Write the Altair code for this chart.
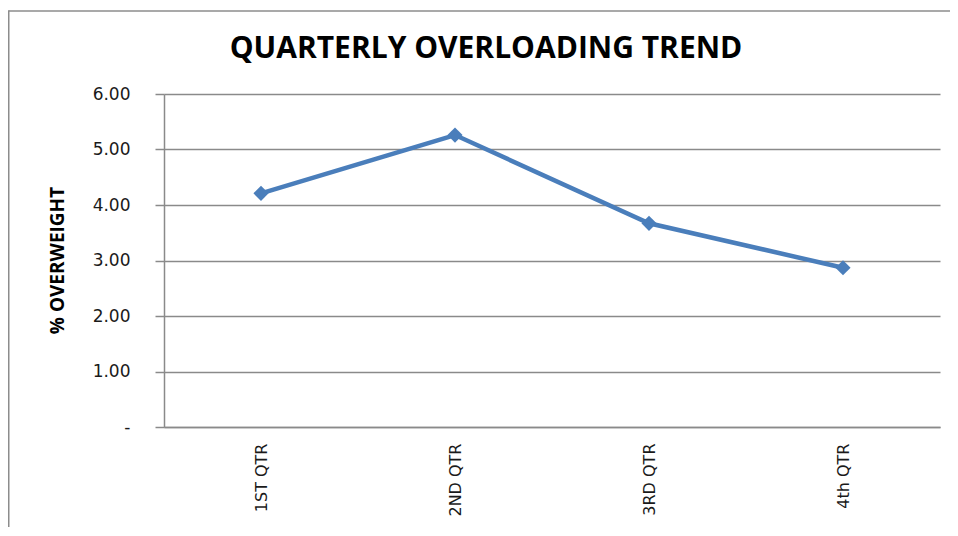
import altair as alt
import pandas as pd

quarters = ["1ST QTR", "2ND QTR", "3RD QTR", "4th QTR"]
overweight = [4.21, 5.26, 3.67, 2.87]
y_ticks = [0, 1, 2, 3, 4, 5, 6]

df = pd.DataFrame({"quarter": quarters, "pct": overweight})

blue = "#4a7ebb"
grid_gray = "#8a8a8a"

x_enc = alt.X(
    "quarter:N",
    sort=quarters,
    scale=alt.Scale(type="point", padding=0.5),
    axis=alt.Axis(
        title=None,
        labelAngle=270,
        labelAlign="right",
        labelBaseline="middle",
        labelPadding=16,
        labelFont="DejaVu Sans",
        labelFontSize=16,
        labelColor="#1a1a1a",
        ticks=False,
        grid=False,
        domainColor=grid_gray,
        domainWidth=1.5,
    ),
)
y_enc = alt.Y(
    "pct:Q",
    scale=alt.Scale(domain=[0, 6], nice=False),
    axis=alt.Axis(
        title="% OVERWEIGHT",
        values=y_ticks,
        labelExpr="datum.value == 0 ? '-\u00a0\u00a0' : format(datum.value, '.2f')",
        labelFont="DejaVu Sans",
        labelFontSize=17,
        labelColor="#1a1a1a",
        labelPadding=25,
        tickSize=9,
        tickColor=grid_gray,
        tickWidth=1.5,
        grid=True,
        gridColor=grid_gray,
        gridWidth=1.5,
        domainColor=grid_gray,
        domainWidth=1.5,
        titleFont="Open Sans",
        titleFontSize=19,
        titleFontWeight="bold",
        titleColor="black",
        titleAngle=270,
        titleAlign="center",
        titleBaseline="middle",
        titleX=-107,
        titleY=166,
    ),
)

frame_src = alt.Data(values=[{}])
frame_top = alt.Chart(frame_src).mark_rule(stroke="#8c8c8c", strokeWidth=1.5).encode(
    x=alt.value(-155.25), x2=alt.value(900), y=alt.value(-83)
)
frame_left = alt.Chart(frame_src).mark_rule(stroke="#8c8c8c", strokeWidth=1.5).encode(
    x=alt.value(-155.25), y=alt.value(-83.75), y2=alt.value(500)
)

line = alt.Chart(df).mark_line(color=blue, strokeWidth=4.5).encode(x=x_enc, y=y_enc)
points = alt.Chart(df).mark_point(
    shape="diamond", filled=True, color=blue, size=230, opacity=1
).encode(x=x_enc, y=y_enc)

chart = (
    alt.layer(frame_top, frame_left, line, points)
    .properties(
        width=776,
        height=333,
        padding={"left": 156, "top": 86, "right": 10, "bottom": 100},
        autosize=alt.AutoSizeParams(type="none"),
        title=alt.TitleParams(
            "QUARTERLY OVERLOADING TREND",
            font="Open Sans",
            fontSize=30,
            fontWeight="bold",
            color="black",
            anchor="middle",
            frame="group",
            baseline="alphabetic",
            dx=-66,
            dy=86,
            offset=8,
        ),
    )
    .configure_view(stroke=None)
)

chart.save("out.html", embed_options={"renderer": "svg", "actions": False})
